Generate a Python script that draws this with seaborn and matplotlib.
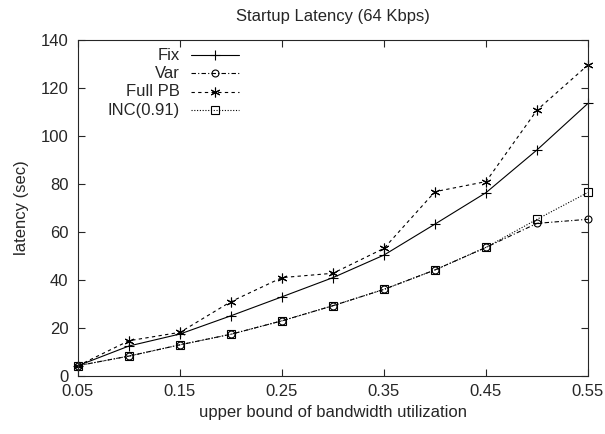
import numpy as np
import pandas as pd
import matplotlib
matplotlib.use("Agg")
import matplotlib.pyplot as plt
import seaborn as sns

x_vals = [0.05, 0.10, 0.15, 0.20, 0.25, 0.30, 0.35, 0.40, 0.45, 0.50, 0.55]
fix = [4.3, 12.5, 17.5, 25.1, 33, 41, 50.4, 63.3, 76.4, 94.2, 113.6]
var = [4.3, 8.3, 13, 17.4, 23, 29.3, 36.1, 44.2, 53.6, 63.6, 65.3]
full_pb = [4.3, 14.7, 18.2, 31, 41, 42.8, 53.2, 76.8, 81, 110.8, 129.6]
inc = [4.3, 8.3, 13, 17.4, 23, 29.3, 36.1, 44.2, 53.6, 65.3, 76.5]
series_names = ["Fix", "Var", "Full PB", "INC(0.91)"]
x_ticks = [0.05, 0.15, 0.25, 0.35, 0.45, 0.55]
y_ticks = [0, 20, 40, 60, 80, 100, 120, 140]

sns.set_style("ticks")
plt.rcParams['font.family'] = ['Liberation Sans', 'DejaVu Sans']
plt.rcParams['font.size'] = 12

df = pd.DataFrame({"x": x_vals * 4,
                   "y": fix + var + full_pb + inc,
                   "series": sum([[n] * len(x_vals) for n in series_names], [])})

W, H = 605, 434
L, R, T, B = 78, 588, 40, 376
fig = plt.figure(figsize=(W / 100, H / 100), dpi=100)
ax = fig.add_axes([L / W, 1 - B / H, (R - L) / W, (B - T) / H])

styles = {
    "Fix": dict(ls="-", marker="+", ms=7, mew=0.8),
    "Var": dict(ls=(0, (4, 2, 1, 2)), marker="o", ms=5, mew=0.8, mfc="none"),
    "Full PB": dict(ls=(0, (3, 3)), marker=(6, 2, 0), ms=7, mew=0.8),
    "INC(0.91)": dict(ls=(0, (1, 1.5)), marker="s", ms=5.5, mew=0.8, mfc="none"),
}
for name in series_names:
    sub = df[df.series == name]
    st = styles[name]
    sns.lineplot(data=sub, x="x", y="y", ax=ax, color="black", lw=0.8,
                 linestyle=st["ls"], marker=st["marker"], markersize=st["ms"],
                 markeredgewidth=st["mew"], markerfacecolor=st.get("mfc", "black"),
                 markeredgecolor="black", legend=False, clip_on=False)

ax.set_xlim(0.05, 0.55)
ax.set_ylim(0, 140)
ax.set_xticks(x_ticks)
ax.set_xticklabels([f"{v:.2f}" for v in x_ticks])
ax.set_yticks(y_ticks)
ax.tick_params(direction="in", top=True, right=True, length=5, width=0.8, labelsize=12)
ax.tick_params(axis="x", pad=6)
ax.tick_params(axis="y", pad=7)
for s in ax.spines.values():
    s.set_linewidth(0.8)
ax.set_xlabel("upper bound of bandwidth utilization", fontsize=12, labelpad=4)
ax.set_ylabel("latency (sec)", fontsize=12, labelpad=8)
ax.set_title("Startup Latency (64 Kbps)", fontsize=12, pad=14)

# gnuplot-style legend: right-aligned label, then sample
ys = [55, 73, 92, 110]
def fx(px):
    return (px - L) / (R - L)
def fy(py):
    return 1 - (py - T) / (B - T)
for name, yp in zip(series_names, ys):
    ya = fy(yp)
    ax.text(fx(180), ya, name, transform=ax.transAxes, ha="right", va="center", fontsize=12)
    st = styles[name]
    ax.plot([fx(191), fx(239)], [ya, ya], transform=ax.transAxes, color="black", lw=0.8, ls=st["ls"])
    ax.plot([fx(215)], [ya], transform=ax.transAxes, color="black", ls="none",
            marker=st["marker"], ms=st["ms"], mew=st["mew"], mfc=st.get("mfc", "black"), mec="black")

fig.savefig("out.png", dpi=100)
